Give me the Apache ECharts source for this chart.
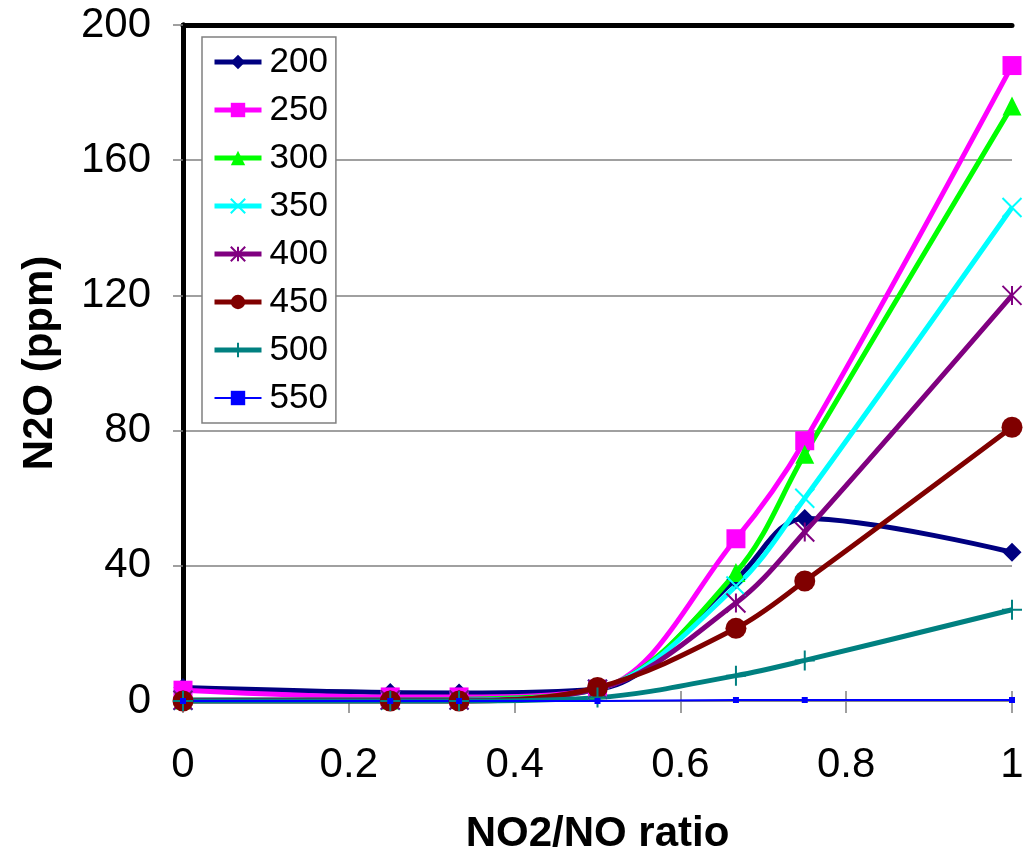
<!DOCTYPE html>
<html>
<head>
<meta charset="utf-8">
<script src="https://cdn.jsdelivr.net/npm/echarts@6/dist/echarts.min.js"></script>
<style>html,body{margin:0;padding:0;background:#fff}#c{width:1028px;height:852px}</style>
</head>
<body>
<div id="c"></div>
<script>
const ratios = [0, 0.25, 0.333, 0.5, 0.667, 0.75, 1];
const seriesNames = ['200', '250', '300', '350', '400', '450', '500', '550'];
const s200 = [4, 2.5, 2.4, 3.5, 36, 54, 44];
const s250 = [3.2, 1.2, 1.2, 3.5, 48, 77, 188];
const s300 = [0.3, 0.3, 0.5, 3.5, 38, 73, 176];
const s350 = [0.2, 0.2, 0.3, 3.5, 34, 60, 146];
const s400 = [0.2, 0.3, 0.3, 3.5, 29, 50, 120];
const s450 = [0, 0, 0, 4, 21.5, 35.5, 81];
const s500 = [0, 0, 0, 1, 7.5, 12, 27];
const s550 = [0, 0, 0, 0, 0.3, 0.3, 0.3];
const yTicks = [0, 40, 80, 120, 160, 200];

const values = [s200, s250, s300, s350, s400, s450, s500, s550];
const colors = ['#000080', '#FF00FF', '#00FF00', '#00FFFF', '#800080', '#800000', '#008080', '#0000FF'];
const symbols = [
  'diamond', 'rect', 'triangle',
  'path://M0,0L10,10M10,0L0,10',
  'path://M0,0L10,10M10,0L0,10M5,0L5,10',
  'circle',
  'path://M5,0L5,10M0,5L10,5',
  'rect'
];
const symSizes = [19, 19, 19, 19, 19, 21, 20, 6];
const lineWidths = [5, 5, 5, 5, 5, 5, 5, 2];
const strokeOnly = [false, false, false, true, true, false, true, false];

function itemStyleFor(i) {
  return strokeOnly[i]
    ? { color: 'none', borderColor: colors[i], borderWidth: 2 }
    : { color: colors[i], borderColor: colors[i], borderWidth: 0 };
}

const chart = echarts.init(document.getElementById('c'));
const series = values.map((v, i) => ({
  name: seriesNames[i],
  type: 'line',
  smooth: 0.35,
  xAxisIndex: 0,
  yAxisIndex: 0,
  data: ratios.map((x, j) => [x, v[j]]),
  symbol: symbols[i],
  symbolSize: symSizes[i],
  showAllSymbol: true,
  clip: false,
  lineStyle: { color: colors[i], width: lineWidths[i] },
  itemStyle: itemStyleFor(i),
  emphasis: { disabled: true },
  animation: false
}));

chart.setOption({
  animation: false,
  backgroundColor: '#fff',
  color: colors,
  grid: { left: 183, right: 16, top: 25, bottom: 151, containLabel: false, outerBoundsMode: 'none' },
  legend: {
    orient: 'vertical',
    left: 202,
    top: 37,
    padding: [7, 8, 7, 10],
    itemGap: 12,
    itemWidth: 47,
    itemHeight: 18,
    borderColor: '#808080',
    borderWidth: 1.5,
    backgroundColor: '#fff',
    textStyle: { fontFamily: 'Liberation Sans', fontSize: 35, color: '#000', lineHeight: 36, padding: [0, 0, 0, 3] },
    data: seriesNames.map((n, i) => ({
      name: n,
      lineStyle: { color: colors[i], width: lineWidths[i] },
      itemStyle: itemStyleFor(i)
    }))
  },
  xAxis: [
    {
      type: 'value', position: 'bottom', min: 0, max: 1, interval: 0.2,
      name: 'NO2/NO ratio', nameLocation: 'middle', nameGap: 112,
      nameTextStyle: { fontFamily: 'Liberation Sans', fontSize: 42, fontWeight: 'bold', color: '#000' },
      axisLine: { show: true, lineStyle: { color: '#808080', width: 1.5 } },
      axisTick: { show: true, length: 12, lineStyle: { color: '#808080', width: 1.5 } },
      axisLabel: { fontFamily: 'Liberation Sans', fontSize: 42, color: '#000', margin: 43 },
      splitLine: { show: false }
    },
    {
      type: 'value', position: 'bottom', min: 0, max: 1, interval: 0.2,
      axisLine: { show: false },
      axisTick: { show: true, inside: true, length: 10, lineStyle: { color: '#808080', width: 1.5 } },
      axisLabel: { show: false },
      splitLine: { show: false }
    },
    {
      type: 'value', position: 'top', min: 0, max: 1,
      axisLine: { show: true, lineStyle: { color: '#000', width: 5 } },
      axisTick: { show: false }, axisLabel: { show: false }, splitLine: { show: false }
    }
  ],
  yAxis: [
    {
      type: 'value', position: 'left', min: 0, max: 200, interval: 40,
      name: 'N2O (ppm)', nameLocation: 'middle', nameGap: 122,
      nameTextStyle: { fontFamily: 'Liberation Sans', fontSize: 42, fontWeight: 'bold', color: '#000' },
      axisLine: { show: true, lineStyle: { color: '#000', width: 5 } },
      axisTick: { show: true, length: 10, lineStyle: { color: '#808080', width: 1.5 } },
      axisLabel: { fontFamily: 'Liberation Sans', fontSize: 42, color: '#000', margin: 32 },
      splitLine: { show: true, lineStyle: { color: '#808080', width: 1.5 } }
    },
    {
      type: 'value', position: 'right', min: 0, max: 200,
      axisLine: { show: true, lineStyle: { color: '#000', width: 5 } },
      axisTick: { show: false }, axisLabel: { show: false }, splitLine: { show: false }
    }
  ],
  series: series
});
</script>
</body>
</html>
